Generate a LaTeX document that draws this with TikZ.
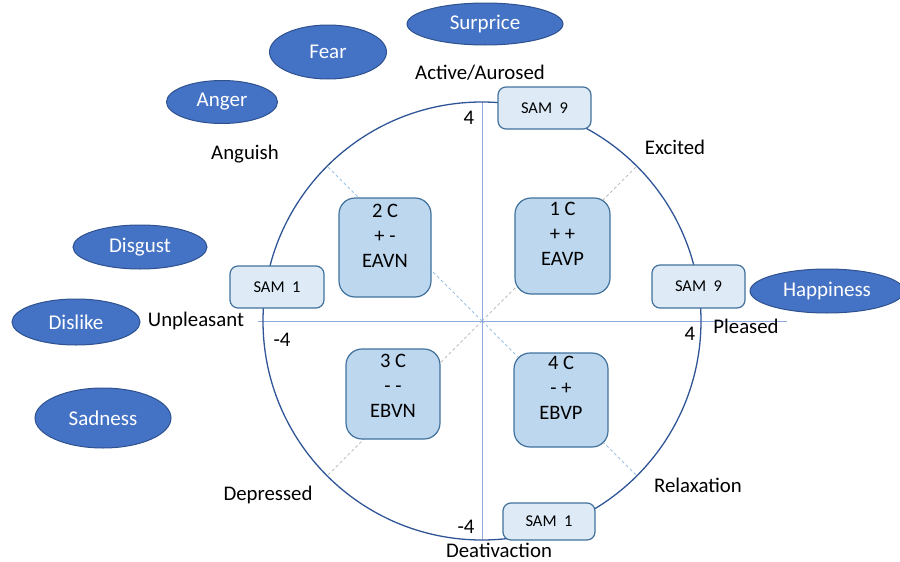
\documentclass[tikz,border=0pt]{standalone}
\usepackage{fontspec}
\setmainfont{Carlito}
\usetikzlibrary{shapes.geometric}
\definecolor{circ}{HTML}{2F5597}
\definecolor{axisc}{HTML}{8FAADC}
\definecolor{cellfill}{HTML}{BDD7EE}
\definecolor{samfill}{HTML}{DEEBF7}
\definecolor{bordr}{HTML}{41719C}
\definecolor{ellfill}{HTML}{4472C4}
\definecolor{ellline}{HTML}{2F528F}
\definecolor{diagblue}{HTML}{9DC3E6}
\definecolor{diaggray}{HTML}{BFBFBF}
\begin{document}
\begin{tikzpicture}[x=1pt,y=-1pt,
 cellbox/.style={draw=bordr, fill=cellfill, line width=1.2pt, rounded corners=16pt, inner sep=0pt},
 celltext/.style={align=center, font=\fontsize{20.5}{25}\selectfont, inner sep=0pt},
 sambox/.style={draw=bordr, fill=samfill, line width=1.2pt, rounded corners=8pt, inner sep=0pt, font=\fontsize{16.5}{19}\selectfont},
 emo/.style={ellipse, draw=ellline, fill=ellfill, line width=1pt, text=white, inner sep=0pt, font=\fontsize{21}{24}\selectfont},
 lbl/.style={inner sep=0pt, font=\fontsize{20.8}{24}\selectfont},
 diagline/.style={line width=0.8pt, dash pattern=on 3pt off 2.5pt}]
\useasboundingbox (0,0) rectangle (900,562);
% geometry
\coordinate (O) at (482,321);
\coordinate (top) at (482,102);
\coordinate (bot) at (482,540);
\coordinate (lft) at (258,321);
\coordinate (rgt) at (787,321);
\coordinate (ul) at (327,166);
\coordinate (ur) at (637,166);
\coordinate (ll) at (327,476);
\coordinate (lr) at (637,476);
% diagonals
\draw[diagline, diagblue] (O) -- (ul);
\draw[diagline, diagblue] (O) -- (lr);
\draw[diagline, diaggray] (O) -- (ur);
\draw[diagline, diaggray] (O) -- (ll);
% axes
\draw[axisc, line width=0.9pt] (top) -- (bot);
\draw[axisc, line width=0.9pt] (lft) -- (rgt);
% circle
\draw[circ, line width=1.3pt] (O) circle[radius=219pt];
% quadrant boxes
\node[cellbox, minimum width=92pt, minimum height=99pt] (c2) at (385,247.5) {};
\node[celltext] at ([yshift=12pt]c2.center) {2 C\\+ -\\EAVN};
\node[cellbox, minimum width=95pt, minimum height=96pt] (c1) at (562.5,246) {};
\node[celltext] at ([yshift=12pt]c1.center) {1 C\\+ +\\EAVP};
\node[cellbox, minimum width=94pt, minimum height=90pt] (c3) at (393,394) {};
\node[celltext] at ([yshift=8pt]c3.center) {3 C\\- -\\EBVN};
\node[cellbox, minimum width=94pt, minimum height=94pt] (c4) at (561,400) {};
\node[celltext] at ([yshift=12pt]c4.center) {4 C\\- +\\EBVP};
% SAM boxes
\node[sambox, minimum width=93pt, minimum height=42pt] (s9t) at (544.5,108) {SAM\ \ 9};
\node[sambox, minimum width=93pt, minimum height=43pt] (s9r) at (698.5,286.5) {SAM\ \ 9};
\node[sambox, minimum width=94pt, minimum height=42pt] (s1l) at (277,287) {SAM\ \ 1};
\node[sambox, minimum width=92pt, minimum height=37pt] (s1b) at (549,521.5) {SAM\ \ 1};
% emotions
\node[emo, minimum width=156pt, minimum height=42pt] (surp) at (485,24) {Surprice};
\node[emo, minimum width=117pt, minimum height=54pt] (fear) at (328,52) {Fear};
\node[emo, minimum width=111pt, minimum height=43pt] (anger) at (222,102) {Anger};
\node[emo, minimum width=134pt, minimum height=44pt] (disg) at (140,247) {Disgust};
\node[emo, minimum width=128pt, minimum height=46pt] (disl) at (76,322) {Dislike};
\node[emo, minimum width=136pt, minimum height=60pt] (sad) at (103,418) {Sadness};
\node[emo, minimum width=154pt, minimum height=44pt] (happy) at (827,291) {Happiness};
% labels
\node[lbl] (act) at (480,73) {Active/Aurosed};
\node[lbl] (n4t) at (469,118) {4};
\node[lbl] (exc) at (675,147) {Excited};
\node[lbl] (ang) at (245,154) {Anguish};
\node[lbl] (unp) at (196,321) {Unpleasant};
\node[lbl] (n4l) at (282,340) {-4};
\node[lbl] (ple) at (746,326) {Pleased};
\node[lbl] (n4r) at (690,334) {4};
\node[lbl] (dep) at (268,495) {Depressed};
\node[lbl] (n4b) at (466,527) {-4};
\node[lbl] (dea) at (499,550) {Deativaction};
\node[lbl] (rel) at (698,485) {Relaxation};
\end{tikzpicture}
\end{document}
